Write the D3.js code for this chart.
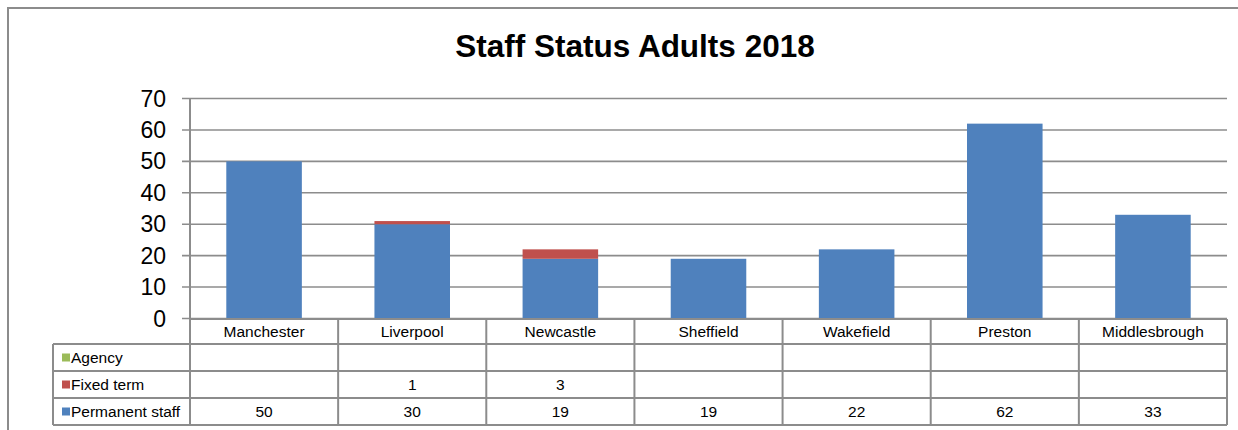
<!DOCTYPE html>
<html>
<head>
<meta charset="utf-8">
<script src="https://cdn.jsdelivr.net/npm/d3@7.9.0/dist/d3.min.js"></script>
<style>
  body { margin: 0; background: #fff; }
  svg { display: block; font-family: "Liberation Sans", Arial, sans-serif; }
</style>
</head>
<body>
<svg width="1238" height="430"></svg>
<script>
const cities = ['Manchester', 'Liverpool', 'Newcastle', 'Sheffield', 'Wakefield', 'Preston', 'Middlesbrough'];
const permanent = [50, 30, 19, 19, 22, 62, 33];
const fixedTerm = [null, 1, 3, null, null, null, null];
const agency = [null, null, null, null, null, null, null];
const yTicks = [0, 10, 20, 30, 40, 50, 60, 70];

const seriesNames = ['Permanent staff', 'Fixed term', 'Agency'];
const seriesValues = [permanent, fixedTerm, agency];
const colors = d3.scaleOrdinal(seriesNames, ['#4f81bd', '#c0504d', '#9bbb59']);

const svg = d3.select('svg');
const grey = '#8c8c8c';

// outer chart frame (runs off the right and bottom of the picture)
svg.append('rect')
  .attr('x', 8).attr('y', 8)
  .attr('width', 1300).attr('height', 500)
  .attr('fill', 'none').attr('stroke', grey).attr('stroke-width', 2);

svg.append('text')
  .attr('x', 635).attr('y', 57)
  .attr('text-anchor', 'middle')
  .attr('font-size', 31.5).attr('font-weight', 'bold')
  .text('Staff Status Adults 2018');

const plotLeft = 190, plotRight = 1227, plotTop = 98.5, plotBottom = 318.5;

let x = d3.scaleBand().domain(cities).range([plotLeft, plotRight]).paddingInner(0).paddingOuter(0);
let y = d3.scaleLinear().domain([0, 70]).range([plotBottom, plotTop]);

// gridlines + ticks
svg.append('g')
  .selectAll('line')
  .data(yTicks)
  .join('line')
  .attr('x1', plotLeft - 8).attr('x2', plotRight)
  .attr('y1', (d) => y(d)).attr('y2', (d) => y(d))
  .attr('stroke', grey).attr('stroke-width', 1.6);

svg.append('g')
  .selectAll('text')
  .data(yTicks)
  .join('text')
  .attr('x', 166)
  .attr('y', (d) => y(d) + 8)
  .attr('text-anchor', 'end')
  .attr('font-size', 23)
  .text((d) => d);

// stacked bars
let rows = cities.map((c, i) => {
  let r = { city: c };
  seriesNames.forEach((s, k) => { r[s] = seriesValues[k][i] || 0; });
  return r;
});
let stacked = d3.stack().keys(seriesNames)(rows);
let bw = x.bandwidth() * 0.51;

stacked.forEach((layer) => {
  svg.append('g')
    .selectAll('rect')
    .data(layer)
    .join('rect')
    .attr('x', (d) => x(d.data.city) + (x.bandwidth() - bw) / 2)
    .attr('width', bw)
    .attr('y', (d) => y(d[1]))
    .attr('height', (d) => y(d[0]) - y(d[1]))
    .attr('fill', colors(layer.key));
});

// data table
const rowH = [319, 344, 371, 398, 425];
const legLeft = 53;
const tableRows = ['Agency', 'Fixed term', 'Permanent staff'];
const tableVals = [agency, fixedTerm, permanent];

let table = svg.append('g').attr('stroke', grey).attr('stroke-width', 2);

// horizontal lines
table.append('line').attr('x1', plotLeft).attr('x2', plotRight).attr('y1', rowH[0]).attr('y2', rowH[0]);
rowH.slice(1).forEach((yy) => {
  table.append('line').attr('x1', legLeft).attr('x2', plotRight).attr('y1', yy).attr('y2', yy);
});
// vertical lines
table.append('line').attr('x1', legLeft).attr('x2', legLeft).attr('y1', rowH[1]).attr('y2', rowH[4]);
table.append('line').attr('x1', plotLeft).attr('x2', plotLeft).attr('y1', plotTop).attr('y2', rowH[4]);
cities.forEach((c) => {
  let xx = x(c) + x.bandwidth();
  table.append('line').attr('x1', xx).attr('x2', xx).attr('y1', rowH[0]).attr('y2', rowH[4]);
});

svg.append('g')
  .selectAll('text')
  .data(cities)
  .join('text')
  .attr('x', (d) => x(d) + x.bandwidth() / 2)
  .attr('y', rowH[0] + 18)
  .attr('text-anchor', 'middle')
  .attr('font-size', 15.5)
  .text((d) => d);

tableRows.forEach((name, r) => {
  let y0 = rowH[r + 1];
  let mid = (y0 + rowH[r + 2]) / 2;
  svg.append('rect')
    .attr('x', 62).attr('y', mid - 4)
    .attr('width', 8).attr('height', 8)
    .attr('fill', colors(name));
  svg.append('text')
    .attr('x', 71).attr('y', mid + 5.5)
    .attr('font-size', 15.5)
    .text(name);
  svg.append('g')
    .selectAll('text')
    .data(tableVals[r].map((v, i) => ({ v, c: cities[i] })).filter((d) => d.v != null))
    .join('text')
    .attr('x', (d) => x(d.c) + x.bandwidth() / 2)
    .attr('y', mid + 5.5)
    .attr('text-anchor', 'middle')
    .attr('font-size', 15.5)
    .text((d) => d.v);
});
</script>
</body>
</html>
